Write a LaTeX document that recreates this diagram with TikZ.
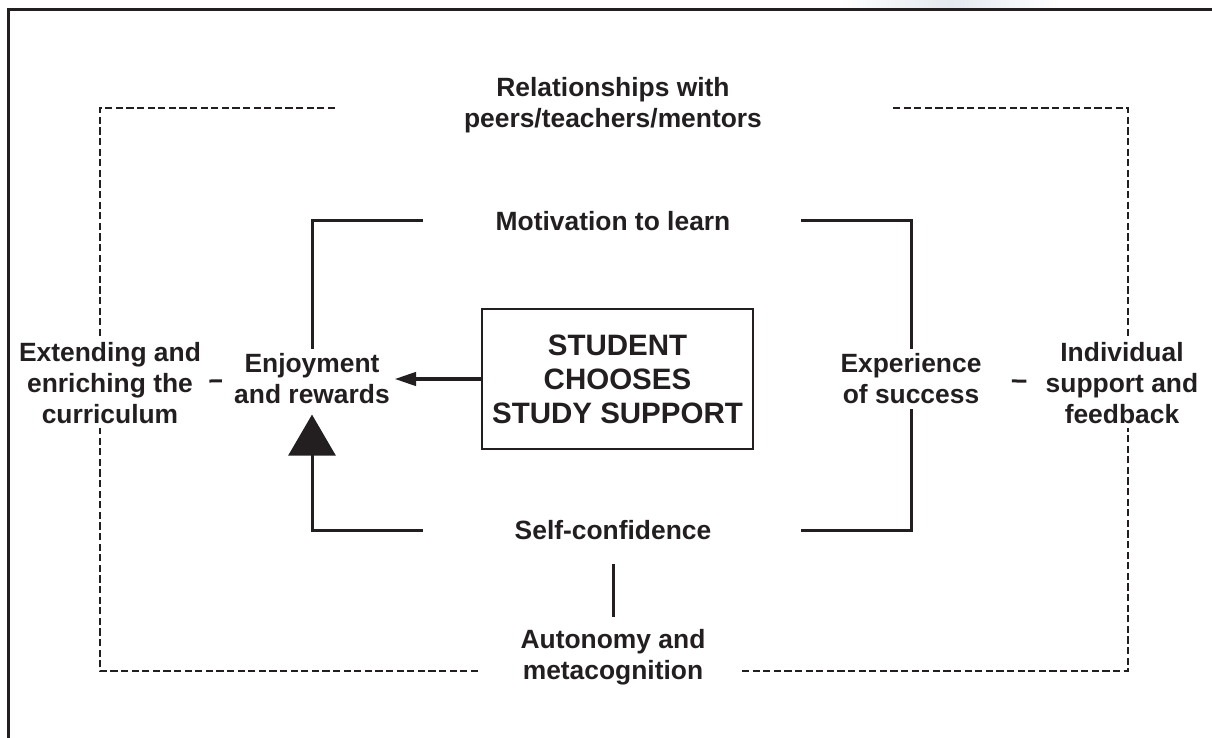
\documentclass[tikz,border=0pt]{standalone}
\usepackage{fontspec}
\setmainfont{Liberation Sans}
\usepackage{tikz}
\usetikzlibrary{arrows.meta}
\tikzset{>={Triangle[width=6.5pt,length=11pt]}}
\definecolor{ink}{HTML}{231F20}
\definecolor{haze}{HTML}{E4E8EF}
\tikzset{
  txt/.style={font=\bfseries\fontsize{13.2}{15.5}\selectfont, text=ink, align=center, inner sep=2pt},
  boxed/.style={draw=ink, line width=1.3pt, font=\bfseries\fontsize{14.75}{17}\selectfont, text=ink,
    align=center, minimum width=135.5pt, minimum height=70pt},
  solidline/.style={draw=ink, line width=1.5pt},
  dashline/.style={draw=ink, line width=1.4pt, dash pattern=on 3.6pt off 1.7pt},
}

\begin{document}
\begin{tikzpicture}[x=0.5pt,y=-0.5pt]
\useasboundingbox (0,0) rectangle (1212,738);

%% faint band and page frame
\shade[left color=white,right color=white,middle color=haze] (840,0) rectangle (1060,8);
\draw[ink, line width=1.5pt] (8,745) -- (8,10) -- (1220,10);

\node[txt] (rel)  at (613,105) {Relationships with\\peers/teachers/mentors};
\node[txt] (mot)  at (613,221) {Motivation to learn};
\node[txt] (enj)  at (312,379) {Enjoyment\\and rewards};
\node[txt] (exp)  at (911,379) {Experience\\of success};
\node[txt] (ext)  at (110,383) {Extending and\\enriching the\\curriculum};
\node[txt] (ind)  at (1122,383) {Individual\\support and\\feedback};
\node[txt] (self) at (613,530) {Self-confidence};
\node[txt] (auto) at (613,657) {Autonomy and\\metacognition};
\node[boxed] (box) at (617.5,379) {STUDENT\\CHOOSES\\STUDY SUPPORT};

%% free ends
\coordinate (mL) at (423,221);
\coordinate (mR) at (801,221);
\coordinate (sL) at (423,530);
\coordinate (sR) at (801,530);
\coordinate (rL) at (335,108);
\coordinate (rR) at (893,108);
\coordinate (aL) at (478,671);
\coordinate (aR) at (742,671);

%% inner bracket
\draw[solidline] (mL) -| (enj);
\draw[solidline] (mR) -| (exp);
\draw[solidline] (sR) -| (exp);
\draw[solidline, -{Triangle[width=23.5pt,length=20.5pt]}, shorten >=3pt] (sL) -| (enj);
\draw[solidline, line width=2.2pt, ->] (box.west) -- (enj.east);
\draw[solidline, shorten <=10pt, shorten >=4pt] (self) -- (auto);

%% outer dashed frame
\draw[dashline] (rL) -| ([xshift=-5pt]ext.north);
\draw[dashline] (aL) -| ([xshift=-5pt]ext.south);
\draw[dashline] (rR) -| ([xshift=3pt]ind.north);
\draw[dashline] (aR) -| ([xshift=3pt]ind.south);

%% short links
\draw[solidline, shorten <=2pt, shorten >=4pt] (ext) -- (enj);
\draw[solidline, shorten <=13pt, shorten >=7.5pt] (exp) -- (ind);

\end{tikzpicture}
\end{document}
